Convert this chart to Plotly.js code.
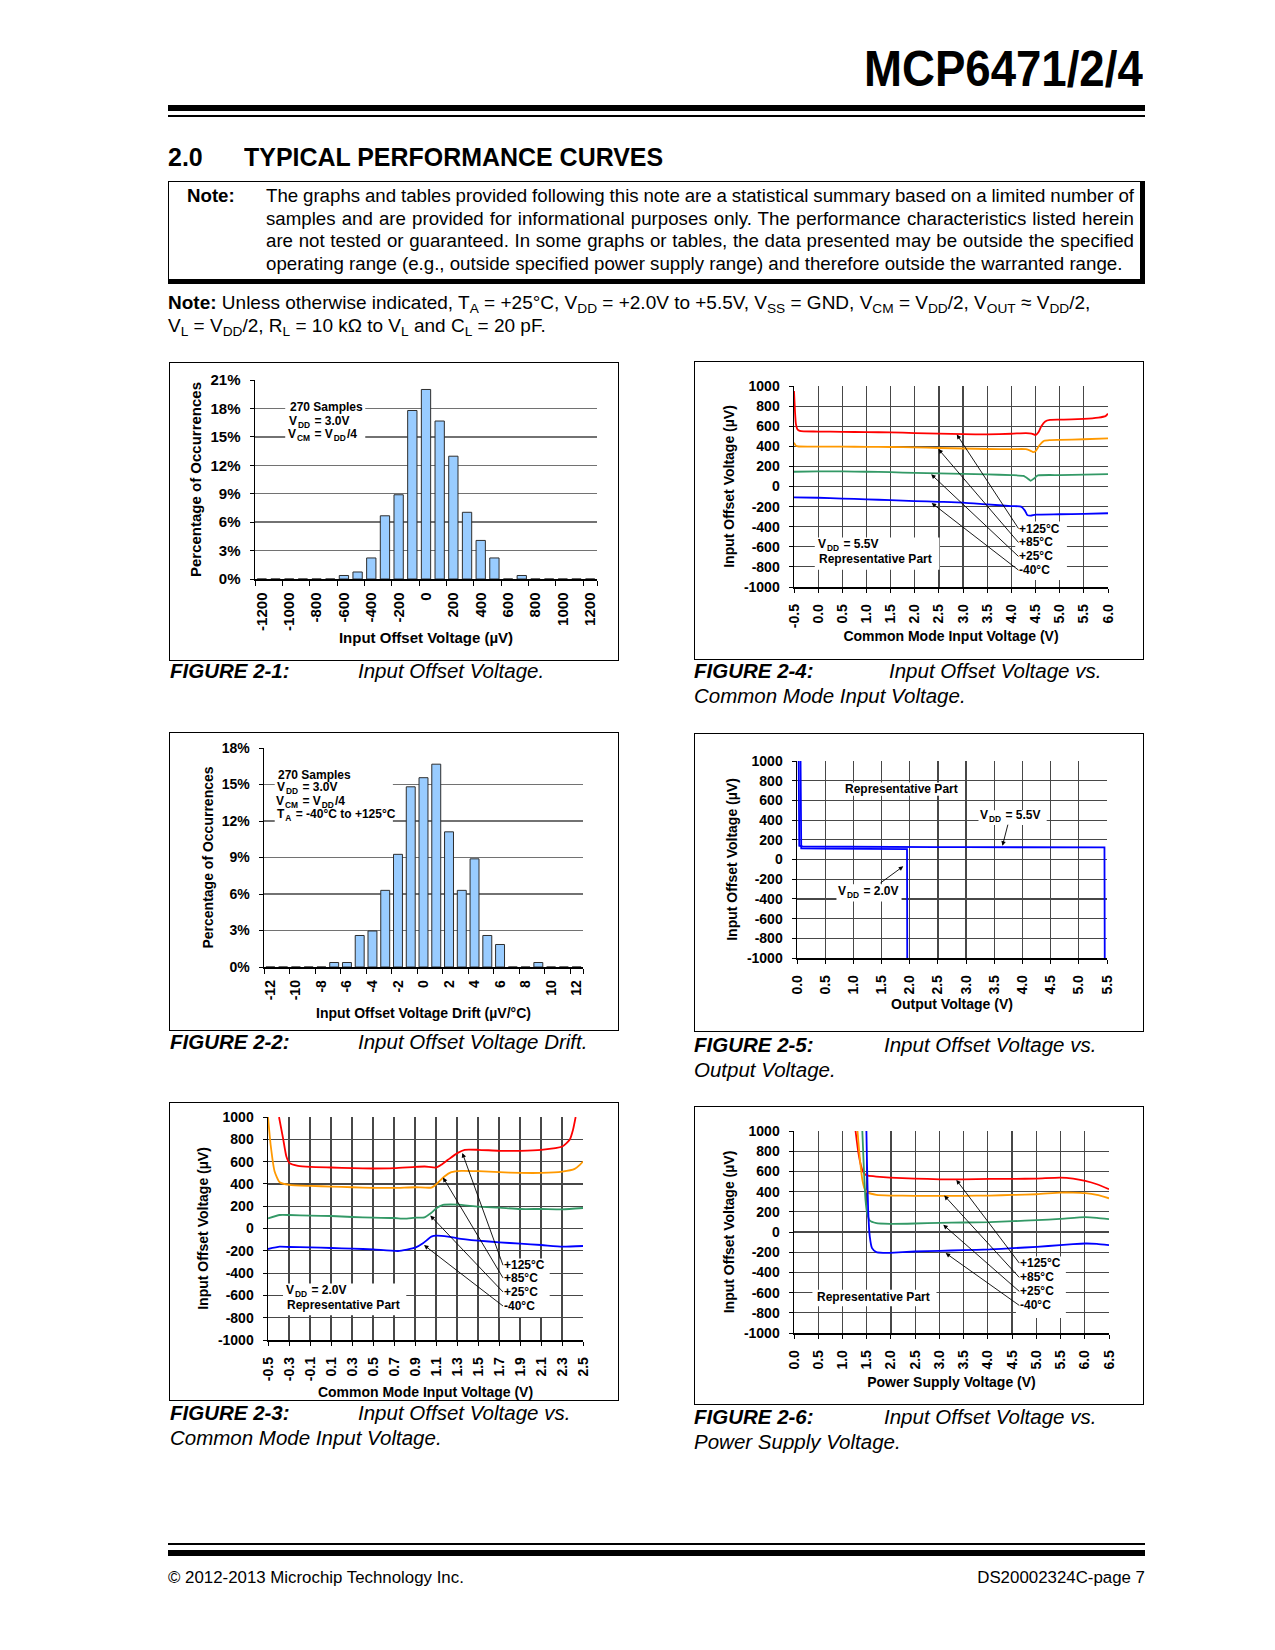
<!DOCTYPE html>
<html>
<head>
<meta charset="utf-8">
<script src="https://cdn.plot.ly/plotly-3.0.1.min.js"></script>
<style>
html,body{margin:0;padding:0;background:#fff;}
#page{position:relative;width:1275px;height:1650px;overflow:hidden;font-family:'Liberation Sans',Arial,Helvetica,sans-serif;color:#000;}
.a{position:absolute;white-space:nowrap;}
.rule{position:absolute;background:#000;}
.frame{position:absolute;width:450px;height:299px;border:1px solid #000;box-sizing:border-box;pointer-events:none;}
.chart{position:absolute;width:450px;height:299px;}
.cap{position:absolute;white-space:nowrap;font-size:20.5px;line-height:25px;font-style:italic;}
.bt{font-size:17px;line-height:22px;}
sub{font-size:72%;vertical-align:-0.3em;line-height:0;}
</style>
</head>
<body>
<div id="page">
  <div class="a" id="hdr" style="right:132px;top:44px;font-weight:bold;font-size:50px;line-height:50px;transform-origin:right center;">MCP6471/2/4</div>
  <div class="rule" style="left:168px;top:105px;width:977px;height:6px;"></div>
  <div class="rule" style="left:168px;top:115px;width:977px;height:2px;"></div>
  <div class="a" id="sec1" style="left:168px;top:143.6px;font-weight:bold;font-size:26.5px;line-height:26.5px;transform-origin:left center;">2.0</div>
  <div class="a" id="sec2" style="left:244px;top:143.6px;font-weight:bold;font-size:26.5px;line-height:26.5px;transform-origin:left center;">TYPICAL PERFORMANCE CURVES</div>

  <div style="position:absolute;left:168px;top:181px;width:977px;height:103px;box-sizing:border-box;border:1px solid #000;border-right-width:5px;border-bottom-width:5px;"></div>
  <div class="a bt" id="bn" style="left:187px;top:185px;font-weight:bold;">Note:</div>
  <div class="a bt" id="b1" style="left:266px;top:185px;">The graphs and tables provided following this note are a statistical summary based on a limited number of</div>
  <div class="a bt" id="b2" style="left:266px;top:208px;">samples and are provided for informational purposes only. The performance characteristics listed herein</div>
  <div class="a bt" id="b3" style="left:266px;top:230px;">are not tested or guaranteed. In some graphs or tables, the data presented may be outside the specified</div>
  <div class="a bt" id="b4" style="left:266px;top:253px;">operating range (e.g., outside specified power supply range) and therefore outside the warranted range.</div>

  <div class="a bt" id="n1" style="left:168px;top:292px;"><b>Note:</b> Unless otherwise indicated, T<sub>A</sub> = +25°C, V<sub>DD</sub> = +2.0V to +5.5V, V<sub>SS</sub> = GND, V<sub>CM</sub> = V<sub>DD</sub>/2, V<sub>OUT</sub> ≈ V<sub>DD</sub>/2,</div>
  <div class="a bt" id="n2" style="left:168px;top:315px;">V<sub>L</sub> = V<sub>DD</sub>/2, R<sub>L</sub> = 10 kΩ to V<sub>L</sub> and C<sub>L</sub> = 20 pF.</div>

  <div class="chart" id="c1" style="left:169px;top:362px;"></div>
  <div class="frame" style="left:169px;top:362px;"></div>
  <div class="chart" id="c4" style="left:694px;top:361px;"></div>
  <div class="frame" style="left:694px;top:361px;"></div>
  <div class="chart" id="c2" style="left:169px;top:732px;"></div>
  <div class="frame" style="left:169px;top:732px;"></div>
  <div class="chart" id="c5" style="left:694px;top:733px;"></div>
  <div class="frame" style="left:694px;top:733px;"></div>
  <div class="chart" id="c3" style="left:169px;top:1102px;"></div>
  <div class="frame" style="left:169px;top:1102px;"></div>
  <div class="chart" id="c6" style="left:694px;top:1106px;"></div>
  <div class="frame" style="left:694px;top:1106px;"></div>

  <div class="cap" style="left:170px;top:657.5px;"><b>FIGURE 2-1:</b></div>
  <div class="cap" style="left:358px;top:657.5px;">Input Offset Voltage.</div>
  <div class="cap" style="left:694px;top:657.5px;"><b>FIGURE 2-4:</b></div>
  <div class="cap" style="left:889px;top:657.5px;">Input Offset Voltage vs.</div>
  <div class="cap" style="left:694px;top:682.5px;">Common Mode Input Voltage.</div>

  <div class="cap" style="left:170px;top:1028.5px;"><b>FIGURE 2-2:</b></div>
  <div class="cap" style="left:358px;top:1028.5px;">Input Offset Voltage Drift.</div>
  <div class="cap" style="left:694px;top:1031.5px;"><b>FIGURE 2-5:</b></div>
  <div class="cap" style="left:884px;top:1031.5px;">Input Offset Voltage vs.</div>
  <div class="cap" style="left:694px;top:1056.5px;">Output Voltage.</div>

  <div class="cap" style="left:170px;top:1399.5px;"><b>FIGURE 2-3:</b></div>
  <div class="cap" style="left:358px;top:1399.5px;">Input Offset Voltage vs.</div>
  <div class="cap" style="left:170px;top:1424.5px;">Common Mode Input Voltage.</div>
  <div class="cap" style="left:694px;top:1403.5px;"><b>FIGURE 2-6:</b></div>
  <div class="cap" style="left:884px;top:1403.5px;">Input Offset Voltage vs.</div>
  <div class="cap" style="left:694px;top:1428.5px;">Power Supply Voltage.</div>

  <div class="rule" style="left:168px;top:1543px;width:977px;height:2px;"></div>
  <div class="rule" style="left:168px;top:1550px;width:977px;height:6px;"></div>
  <div class="a" id="f1" style="left:168px;top:1567px;font-size:16.5px;line-height:22px;">© 2012-2013 Microchip Technology Inc.</div>
  <div class="a" id="f2" style="right:130px;top:1567px;font-size:16.5px;line-height:22px;">DS20002324C-page 7</div>
</div>

<script>
// ================= DATA =================
// Figure 2-1: Input Offset Voltage histogram (270 samples)
const fig1Bins = ['-1200','-1100','-1000','-900','-800','-700','-600','-500','-400','-300','-200','-100','0','100','200','300','400','500','600','700','800','900','1000','1100','1200'];
const fig1Pct = [0,0,0,0,0,0,0.37,0.74,2.22,6.67,8.89,17.78,20.00,16.67,12.96,7.04,4.07,2.22,0,0.37,0,0,0,0,0];
const fig1XLabels = ['-1200','-1000','-800','-600','-400','-200','0','200','400','600','800','1000','1200'];
const fig1YTicks = [0,3,6,9,12,15,18,21];
const fig1YText = ['0%','3%','6%','9%','12%','15%','18%','21%'];

// Figure 2-2: Input Offset Voltage Drift histogram
const fig2Bins = ['-12','-11','-10','-9','-8','-7','-6','-5','-4','-3','-2','-1','0','1','2','3','4','5','6','7','8','9','10','11','12'];
const fig2Pct = [0,0,0,0,0,0.37,0.37,2.59,2.96,6.30,9.26,14.81,15.56,16.67,11.11,6.30,8.89,2.59,1.85,0,0,0.37,0,0,0];
const fig2XLabels = ['-12','-10','-8','-6','-4','-2','0','2','4','6','8','10','12'];
const fig2YTicks = [0,3,6,9,12,15,18];
const fig2YText = ['0%','3%','6%','9%','12%','15%','18%'];

// Common offset axis ticks (µV)
const vosTicks = [1000,800,600,400,200,0,-200,-400,-600,-800,-1000];
const vosText = ['1000','800','600','400','200','0','-200','-400','-600','-800','-1000'];
const tempLabels = ['+125°C','+85°C','+25°C','-40°C'];

// Figure 2-4: VOS vs VCM, VDD = 5.5V
const fig4XTicks = [-0.5,0,0.5,1,1.5,2,2.5,3,3.5,4,4.5,5,5.5,6];
const fig4XText = ['-0.5','0.0','0.5','1.0','1.5','2.0','2.5','3.0','3.5','4.0','4.5','5.0','5.5','6.0'];
const fig4X125 = [-0.5,-0.48,-0.46,-0.43,-0.38,-0.3,0,0.5,1,1.5,2,2.5,3,3.5,4,4.3,4.42,4.5,4.56,4.62,4.7,4.8,5,5.5,5.8,5.95,6];
const fig4Y125 = [950,750,620,570,553,548,547,544,541,538,532,527,521,519,525,532,527,512,540,600,648,662,665,672,685,700,725];
const fig4X85 = [-0.5,-0.46,-0.4,0,0.5,1,1.5,2,2.5,3,3.5,4,4.3,4.4,4.45,4.5,4.58,4.68,4.8,5,5.5,6];
const fig4Y85 = [435,405,398,397,396,395,393,390,383,378,373,372,372,355,342,352,410,455,462,464,470,478];
const fig4X25 = [-0.5,0,0.5,1,1.5,2,2.5,3,3.5,4,4.25,4.35,4.4,4.47,4.55,5,5.5,6];
const fig4Y25 = [147,150,150,147,143,135,130,125,120,113,105,75,57,80,110,114,118,123];
const fig4XM40 = [-0.5,0,0.5,1,1.5,2,2.5,3,3.5,4,4.2,4.28,4.33,4.4,4.5,5,5.5,6];
const fig4YM40 = [-108,-112,-120,-128,-136,-145,-152,-160,-178,-195,-200,-240,-285,-290,-280,-276,-272,-266];

// Figure 2-5: VOS vs VOUT
const fig5XTicks = [0,0.5,1,1.5,2,2.5,3,3.5,4,4.5,5,5.5];
const fig5XText = ['0.0','0.5','1.0','1.5','2.0','2.5','3.0','3.5','4.0','4.5','5.0','5.5'];
const fig5X55 = [0.03,0.032,0.04,0.1,0.5,1,1.5,2,2.5,3,3.5,4,4.5,5,5.4,5.455,5.46];
const fig5Y55 = [1000,500,140,132,130,128,127,126,126,125,125,124,125,126,126,124,-1000];
const fig5X20 = [0.063,0.066,0.075,0.5,1,1.5,1.9,1.952,1.956];
const fig5Y20 = [1000,500,112,110,108,107,106,105,-1000];

// Figure 2-3: VOS vs VCM, VDD = 2.0V
const fig3XTicks = [-0.5,-0.3,-0.1,0.1,0.3,0.5,0.7,0.9,1.1,1.3,1.5,1.7,1.9,2.1,2.3,2.5];
const fig3XText = ['-0.5','-0.3','-0.1','0.1','0.3','0.5','0.7','0.9','1.1','1.3','1.5','1.7','1.9','2.1','2.3','2.5'];
const fig3X125 = [-0.395,-0.357,-0.325,-0.294,-0.214,-0.097,0.103,0.303,0.503,0.703,0.903,0.992,1.103,1.15,1.214,1.303,1.373,1.503,1.703,1.903,2.103,2.303,2.373,2.405,2.43];
const fig3Y125 = [1000,811,646,586,562,553,547,541,538,541,553,556,547,571,616,676,706,706,697,697,706,736,796,886,1000];
const fig3X85 = [-0.5,-0.475,-0.437,-0.389,-0.297,-0.097,0.103,0.303,0.503,0.703,0.903,1.056,1.103,1.18,1.246,1.341,1.503,1.703,1.903,2.103,2.303,2.421,2.47,2.5];
const fig3Y85 = [1000,751,511,415,391,382,376,370,364,364,370,367,397,466,505,517,514,505,499,499,511,535,571,601];
const fig3X25 = [-0.5,-0.389,-0.297,-0.097,0.103,0.303,0.503,0.703,0.8,0.903,0.99,1.05,1.103,1.167,1.303,1.503,1.703,1.903,2.103,2.303,2.5];
const fig3Y25 = [91,121,121,115,112,103,97,94,88,97,100,136,181,211,214,196,187,175,175,172,184];
const fig3XM40 = [-0.5,-0.389,-0.297,-0.097,0.103,0.303,0.503,0.738,0.903,0.976,1.056,1.103,1.214,1.303,1.503,1.703,1.903,2.103,2.303,2.5];
const fig3YM40 = [-184,-163,-166,-169,-175,-181,-187,-202,-172,-133,-73,-64,-73,-88,-109,-124,-136,-148,-163,-157];

// Figure 2-6: VOS vs VDD
const fig6XTicks = [0,0.5,1,1.5,2,2.5,3,3.5,4,4.5,5,5.5,6,6.5];
const fig6XText = ['0.0','0.5','1.0','1.5','2.0','2.5','3.0','3.5','4.0','4.5','5.0','5.5','6.0','6.5'];
const fig6X125 = [1.27,1.33,1.38,1.42,1.47,1.53,1.7,1.98,2.49,3.01,3.49,4.04,4.52,5.01,5.49,5.76,6.01,6.25,6.5];
const fig6Y125 = [1000,780,660,600,570,558,549,539,529,522,522,526,526,529,539,529,506,473,423];
const fig6X85 = [1.31,1.36,1.41,1.46,1.53,1.7,1.98,2.49,3.01,3.49,4.04,4.52,5.01,5.49,5.76,6.01,6.25,6.5];
const fig6Y85 = [1000,720,520,425,390,368,361,358,358,358,361,367,374,390,390,384,367,334];
const fig6X25 = [1.41,1.44,1.475,1.51,1.56,1.7,1.98,2.49,3.01,3.49,4.04,4.52,5.01,5.49,6.01,6.25,6.5];
const fig6Y25 = [1000,650,320,186,114,87,81,84,91,94,97,107,117,130,147,140,127];
const fig6XM40 = [1.494,1.508,1.53,1.563,1.61,1.7,1.84,1.98,2.49,3.01,3.49,4.04,4.52,5.01,5.49,5.76,6.01,6.25,6.5];
const fig6YM40 = [1000,647,219,-44,-160,-199,-206,-206,-193,-186,-180,-173,-160,-147,-130,-120,-114,-117,-130];

// ================= STYLE =================
const FONT = "'Liberation Sans', Arial, Helvetica, sans-serif";
const BLACK = '#000000';
const GRID = '#474747';
const HGRID = '#727272';
const COL = {t125:'#FF0000', t85:'#FF9900', t25:'#339966', tm40:'#0000FF'};

function fnt(size){ return {family: FONT, size: size, color: BLACK, weight: 'bold'}; }
function txt(x, y, text, anchor){
  return {x:x, y:y, xref:'x', yref:'y', text:text, showarrow:false, xanchor:anchor||'left', yanchor:'middle', font:fnt(12), borderpad:0};
}
// label placed at (tx, ty) with a leader arrow pointing to (hx, hy)
function lead(text, tx, ty, hx, hy, anchor){
  return {x:hx, y:hy, ax:tx, ay:ty, xref:'x', yref:'y', axref:'x', ayref:'y', text:text, showarrow:true,
          xanchor:anchor||'left', yanchor:'middle', font:fnt(12), borderpad:0,
          arrowhead:2, arrowsize:1, arrowwidth:0.9, arrowcolor:BLACK, standoff:0, startstandoff:0};
}
function box(x0, x1, y0, y1){
  return {type:'rect', xref:'x', yref:'y', x0:x0, x1:x1, y0:y0, y1:y1, fillcolor:'#FFFFFF', line:{width:0}, layer:'between'};
}
function axisBase(size){
  return {showline:true, linecolor:BLACK, linewidth:1.5, ticks:'outside', ticklen:4, tickwidth:1, tickcolor:BLACK,
          zeroline:false, fixedrange:true, automargin:false, tickfont:fnt(size), ticklabelstandoff:6};
}
const cfg = {staticPlot:true, displayModeBar:false};
const plots = [];

function histogram(div, bins, pct, xLabels, yTicks, yText, yMax, size, m, xTitle, xStand, yStand, ann, shapes, gap){
  const xa = Object.assign(axisBase(size), {
    type:'category', categoryorder:'array', categoryarray:bins, tickmode:'array', tickvals:xLabels,
    ticktext:xLabels, tickson:'boundaries', ticklen:5, tickangle:-90, showgrid:false,
    title:{text:xTitle, font:fnt(size), standoff:xStand}
  });
  const ya = Object.assign(axisBase(size), {
    range:[0,yMax], autorange:false, tickmode:'array', tickvals:yTicks, ticktext:yText,
    showgrid:true, gridcolor:HGRID, gridwidth:1.4,
    title:{text:'Percentage of Occurrences', font:fnt(size), standoff:yStand}
  });
  plots.push(Plotly.newPlot(div, [{type:'bar', x:bins, y:pct, marker:{color:'#99CCFF', line:{color:'#2E2E2E', width:1}}, hoverinfo:'skip'}], {
    width:450, height:299, margin:{l:m[0], r:m[1], t:m[2], b:m[3], pad:0},
    paper_bgcolor:'rgba(0,0,0,0)', plot_bgcolor:'#FFFFFF', showlegend:false, bargap:gap,
    font:{family:FONT, color:BLACK}, xaxis:xa, yaxis:ya, annotations:ann, shapes:shapes
  }, cfg));
}

function lineChart(div, traces, xr, xTicks, xText, m, xTitle, xStand, yStand, ann, shapes){
  const xa = Object.assign(axisBase(14), {
    range:xr, autorange:false, tickmode:'array', tickvals:xTicks, ticktext:xText, tickangle:-90,
    showgrid:true, gridcolor:GRID, gridwidth:1.2,
    title:{text:xTitle, font:fnt(14), standoff:xStand}
  });
  const ya = Object.assign(axisBase(14), {
    range:[-1000,1000], autorange:false, tickmode:'array', tickvals:vosTicks, ticktext:vosText,
    showgrid:true, gridcolor:GRID, gridwidth:1.2,
    title:{text:'Input Offset Voltage (µV)', font:fnt(14), standoff:yStand}
  });
  plots.push(Plotly.newPlot(div, traces, {
    width:450, height:299, margin:{l:m[0], r:m[1], t:m[2], b:m[3], pad:0},
    paper_bgcolor:'rgba(0,0,0,0)', plot_bgcolor:'#FFFFFF', showlegend:false,
    font:{family:FONT, color:BLACK}, xaxis:xa, yaxis:ya, annotations:ann, shapes:shapes
  }, cfg));
}
function tr(x, y, color, name, shape){
  return {type:'scatter', mode:'lines', x:x, y:y, name:name, hoverinfo:'skip',
          line:{color:color, width:1.8, shape:shape||'spline', smoothing:0.5}};
}

// ---------- Figure 2-1 ----------
histogram('c1', fig1Bins, fig1Pct, fig1XLabels, fig1YTicks, fig1YText, 21, 15, [86,22,18,82], 'Input Offset Voltage (µV)', 2, 5,
  [txt(1.95, 18.1, '270 Samples'), txt(1.95, 16.6, 'V<sub>DD</sub> = 3.0V'), txt(1.95, 15.2, 'V<sub>CM</sub> = V<sub>DD</sub>/4')],
  [box(1.71, 7.56, 14.5, 18.75)], 0.32);

// ---------- Figure 2-2 ----------
histogram('c2', fig2Bins, fig2Pct, fig2XLabels, fig2YTicks, fig2YText, 18, 14, [95,36,16,64], 'Input Offset Voltage Drift (µV/°C)', 9, 5,
  [txt(0.55, 15.8, '270 Samples'), txt(0.55, 14.7, 'V<sub>DD</sub> = 3.0V'), txt(0.55, 13.6, 'V<sub>CM</sub> = V<sub>DD</sub>/4'),
   txt(0.55, 12.5, 'T<sub>A</sub> = -40°C to +125°C')],
  [box(0.34, 9.6, 11.9, 16.3)], 0.30);

// ---------- Figure 2-4 ----------
lineChart('c4', [
    tr(fig4X125, fig4Y125, COL.t125, '+125°C'), tr(fig4X85, fig4Y85, COL.t85, '+85°C'),
    tr(fig4X25, fig4Y25, COL.t25, '+25°C'), tr(fig4XM40, fig4YM40, COL.tm40, '-40°C')],
  [-0.5, 6.0], fig4XTicks, fig4XText, [100,36,25,73], 'Common Mode Input Voltage (V)', 4, 6,
  [txt(0.0, -580, 'V<sub>DD</sub> = 5.5V'), txt(0.0, -719, 'Representative Part'),
   lead(tempLabels[0], 4.147, -418, 2.87, 517), lead(tempLabels[1], 4.147, -557, 2.49, 372),
   lead(tempLabels[2], 4.147, -696, 2.34, 121), lead(tempLabels[3], 4.147, -832, 2.35, -164)],
  [box(-0.07, 2.51, -829, -508), box(4.08, 5.15, -930, -349)]);

// ---------- Figure 2-5 ----------
lineChart('c5', [
    tr(fig5X55, fig5Y55, COL.tm40, 'VDD = 5.5V', 'linear'), tr(fig5X20, fig5Y20, COL.tm40, 'VDD = 2.0V', 'linear')],
  [0, 5.5], fig5XTicks, fig5XText, [103,37,28,74], 'Output Voltage (V)', 5, 6,
  [txt(1.855, 717, 'Representative Part', 'center'),
   lead('V<sub>DD</sub> = 5.5V', 3.78, 440, 3.645, 140, 'center'),
   lead('V<sub>DD</sub> = 2.0V', 1.274, -325, 1.885, -69, 'center')],
  [box(0.79, 2.92, 646, 781), box(3.22, 4.43, 349, 500), box(0.70, 1.855, -427, -251)]);

// ---------- Figure 2-3 ----------
lineChart('c3', [
    tr(fig3X125, fig3Y125, COL.t125, '+125°C'), tr(fig3X85, fig3Y85, COL.t85, '+85°C'),
    tr(fig3X25, fig3Y25, COL.t25, '+25°C'), tr(fig3XM40, fig3YM40, COL.tm40, '-40°C')],
  [-0.5, 2.5], fig3XTicks, fig3XText, [99,36,15,61], 'Common Mode Input Voltage (V)', 7, 6,
  [txt(-0.332, -563, 'V<sub>DD</sub> = 2.0V'), txt(-0.332, -689, 'Representative Part'),
   lead(tempLabels[0], 1.738, -329, 1.351, 677), lead(tempLabels[1], 1.738, -443, 1.167, 458),
   lead(tempLabels[2], 1.738, -569, 1.046, 116), lead(tempLabels[3], 1.738, -695, 0.986, -149)],
  [box(-0.357, 0.817, -779, -494), box(1.706, 2.183, -794, -269)]);

// ---------- Figure 2-6 ----------
lineChart('c6', [
    tr(fig6X125, fig6Y125, COL.t125, '+125°C'), tr(fig6X85, fig6Y85, COL.t85, '+85°C'),
    tr(fig6X25, fig6Y25, COL.t25, '+25°C'), tr(fig6XM40, fig6YM40, COL.tm40, '-40°C')],
  [0, 6.5], fig6XTicks, fig6XText, [100,35,25,72], 'Power Supply Voltage (V)', 8, 6,
  [txt(0.448, -647, 'Representative Part'),
   lead(tempLabels[0], 4.649, -308, 3.35, 516), lead(tempLabels[1], 4.649, -450, 3.10, 361),
   lead(tempLabels[2], 4.649, -588, 3.08, 71), lead(tempLabels[3], 4.649, -727, 3.13, -209)],
  [box(0.38, 2.94, -736, -572), box(4.58, 5.61, -852, -242)]);

// Plotly resets the baseline after <sub> with zero-width-space spans; give them a hair-space width.
function fixZeroWidth(){
  document.querySelectorAll('.chart svg text').forEach(function(t){
    const walker = document.createTreeWalker(t, NodeFilter.SHOW_TEXT, null);
    let n;
    while((n = walker.nextNode())){
      if(n.nodeValue.indexOf('\u200b') !== -1) n.nodeValue = n.nodeValue.replace(/\u200b/g, '\u200a');
    }
  });
}
Promise.all(plots).then(fixZeroWidth);

// ================= TEXT FITTING =================
function scaleTo(id, w){ const el = document.getElementById(id); el.style.transform = 'scaleX(' + (w / el.offsetWidth) + ')'; }
function fitFont(id, w){
  const el = document.getElementById(id);
  const fs = parseFloat(getComputedStyle(el).fontSize);
  el.style.fontSize = (fs * w / el.getBoundingClientRect().width) + 'px';
  return parseFloat(el.style.fontSize);
}
function justify(id, w, fs){
  const el = document.getElementById(id);
  el.style.fontSize = fs + 'px';
  el.style.wordSpacing = '0px';
  const n = (el.textContent.match(/ /g) || []).length;
  const cur = el.getBoundingClientRect().width;
  if(n) el.style.wordSpacing = ((w - cur) / n) + 'px';
}
function layoutText(){
  scaleTo('hdr', 279);
  const s = 419 / document.getElementById('sec2').offsetWidth;
  document.getElementById('sec2').style.transform = 'scaleX(' + s + ')';
  document.getElementById('sec1').style.transform = 'scaleX(' + s + ')';
  const fs = fitFont('b4', 857);
  document.getElementById('bn').style.fontSize = fs + 'px';
  ['b1','b2','b3'].forEach(id => justify(id, 868, fs));
  const fs2 = fitFont('n1', 923);
  document.getElementById('n2').style.fontSize = fs2 + 'px';
  fitFont('f1', 296);
  fitFont('f2', 168);
}
if(document.fonts && document.fonts.ready){ document.fonts.ready.then(layoutText); } else { layoutText(); }
</script>
</body>
</html>
